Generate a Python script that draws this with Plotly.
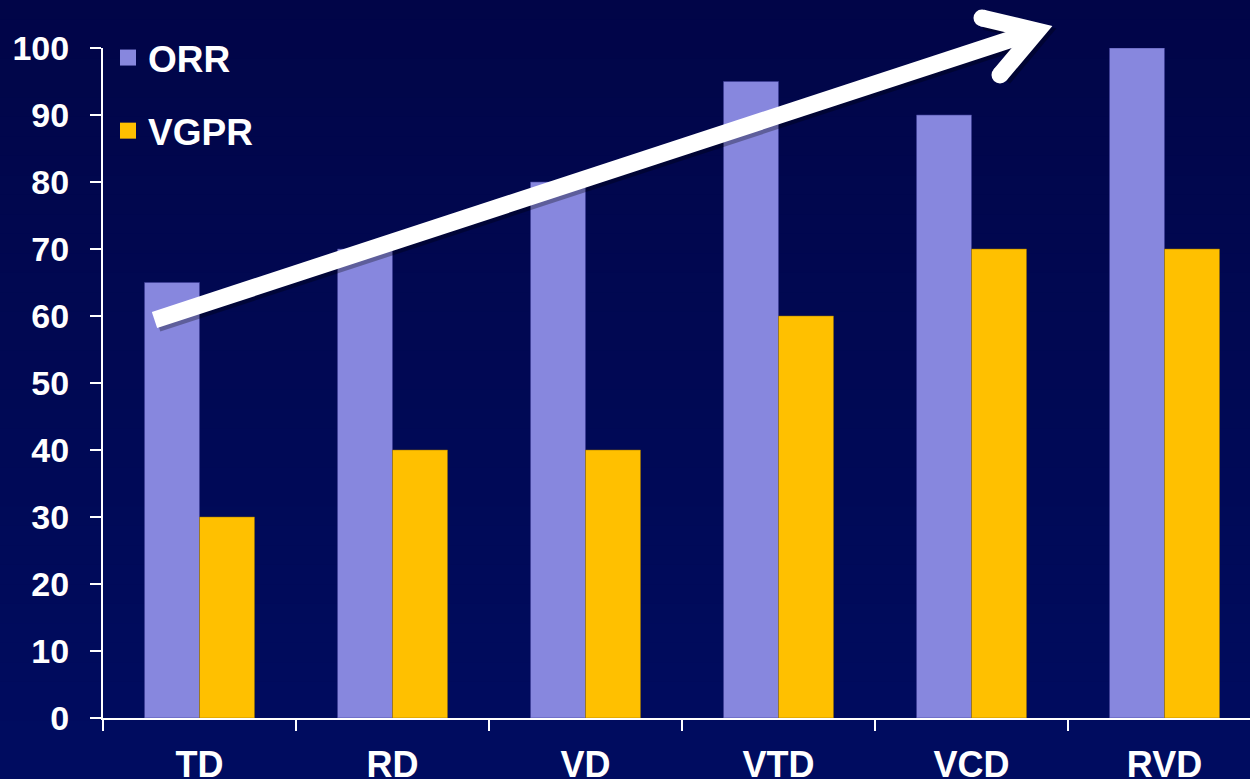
import plotly.graph_objects as go

# Regimens and response rates (%)
regimens = ["TD", "RD", "VD", "VTD", "VCD", "RVD"]
orr = [65, 70, 80, 95, 90, 100]
vgpr = [30, 40, 40, 60, 70, 70]
y_ticks = list(range(0, 101, 10))

ORR_COLOR = "#8787DE"
VGPR_COLOR = "#FFC000"
FONT = dict(family="Arial, Liberation Sans, sans-serif", color="white", weight="bold")

W, H = 1250, 779
ML, MR, MT, MB = 103, 0, 48, 61
PW, PH = W - ML - MR, H - MT - MB
CAT_W = 193.0  # pixel width of one category slot


def px(x, y):
    """Pixel position on the page -> paper coordinates of the plot area."""
    return (x - ML) / PW, (H - MB - y) / PH


fig = go.Figure()

fig.add_trace(go.Bar(x=regimens, y=orr, name="ORR", marker=dict(color=ORR_COLOR, line=dict(color="rgba(60,60,150,0.6)", width=1)),
                     showlegend=False))
fig.add_trace(go.Bar(x=regimens, y=vgpr, name="VGPR", marker=dict(color=VGPR_COLOR, line=dict(color="rgba(150,110,0,0.5)", width=1)),
                     showlegend=False))

# legend swatches
for name, col in [("ORR", ORR_COLOR), ("VGPR", VGPR_COLOR)]:
    fig.add_trace(go.Scatter(x=[None], y=[None], mode="markers", name=name, legendgroup=name,
                             marker=dict(symbol="square", size=19, color=col)))

shapes = []

# vertical background gradient
top = (1, 5, 72)
bot = (0, 12, 96)
n = 40
for i in range(n):
    t = i / (n - 1)
    c = tuple(round(top[k] + (bot[k] - top[k]) * t) for k in range(3))
    y0 = i * H / n
    y1 = (i + 1) * H / n + 1
    x0p, y0p = px(0, y0)
    x1p, y1p = px(W, y1)
    shapes.append(dict(type="rect", xref="paper", yref="paper", x0=x0p, x1=x1p, y0=y1p, y1=y0p,
                       fillcolor="rgb(%d,%d,%d)" % c, line=dict(width=0), layer="below"))

# trend arrow (centre-line points; the mitred join forms the point)
tail = (154.5, 320)
tip = (1037, 31)
arm1 = (982, 18)
arm2 = (1000, 75)


def path(points):
    pts = [px(*p) for p in points]
    return "M " + " L ".join("%.5f,%.5f" % p for p in pts)


def offset(points, d):
    return [(a + d, b + d) for a, b in points]


shaft_pts = [tail, (1030, 33)]
head_pts = [arm1, tip, arm2]
for pts, col, w in [(offset(shaft_pts, 3), "rgba(0,0,0,0.3)", 18), (offset(head_pts, 3), "rgba(0,0,0,0.3)", 18),
                    (shaft_pts, "white", 17), (head_pts, "white", 17)]:
    shapes.append(dict(type="path", xref="paper", yref="paper", path=path(pts),
                       line=dict(color=col, width=w), layer="above"))
r = 8.5
for cx, cy in [arm1, arm2]:
    x0p, y0p = px(cx - r, cy + r)
    x1p, y1p = px(cx + r, cy - r)
    shapes.append(dict(type="circle", xref="paper", yref="paper", x0=x0p, x1=x1p, y0=y0p, y1=y1p,
                       fillcolor="white", line=dict(width=0), layer="above"))

fig.update_layout(
    width=W, height=H,
    margin=dict(l=ML, r=MR, t=MT, b=MB, autoexpand=False),
    paper_bgcolor="rgb(0,8,84)",
    plot_bgcolor="rgba(0,0,0,0)",
    barmode="group",
    bargap=0.43,
    bargroupgap=0,
    shapes=shapes,
    legend=dict(x=px(108, 0)[0], xanchor="left", y=px(0, 27)[1], yanchor="top",
                font=dict(size=37, **FONT), bgcolor="rgba(0,0,0,0)",
                traceorder="grouped", tracegroupgap=22, itemsizing="trace"),
    xaxis=dict(
        range=[-0.5, 5.5 - (ML + 6 * CAT_W - W) / CAT_W],
        showline=True, linecolor="white", linewidth=2,
        ticks="outside", tickson="boundaries", ticklen=11, tickwidth=2, tickcolor="white",
        tickfont=dict(size=36, **FONT), showgrid=False, zeroline=False,
        ticklabelstandoff=14, automargin=False,
    ),
    yaxis=dict(
        range=[0, 100],
        tickvals=y_ticks, ticktext=[str(v) for v in y_ticks],
        showline=True, linecolor="white", linewidth=2,
        ticks="outside", ticklen=11, tickwidth=2, tickcolor="white",
        tickfont=dict(size=34, **FONT), showgrid=False, zeroline=False,
        ticklabelstandoff=14, automargin=False,
    ),
)

fig.write_html("out.html")
